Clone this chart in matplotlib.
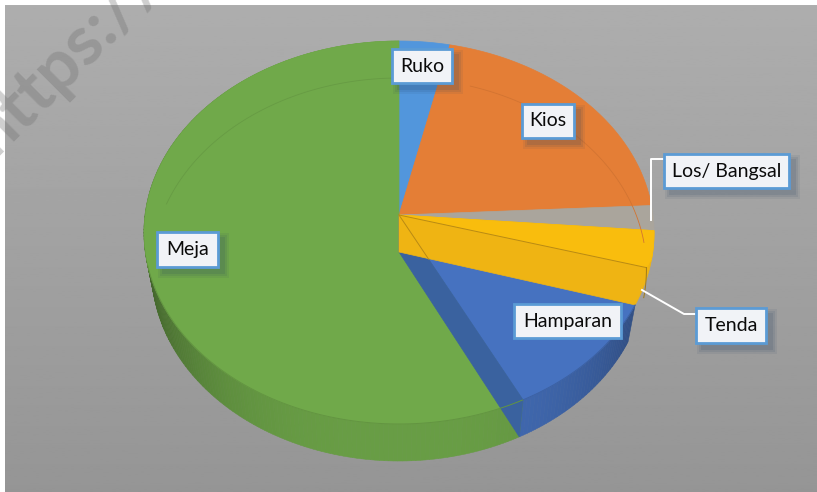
"""
Extruded pie chart of market stall types
"""

import numpy as np
import matplotlib
matplotlib.use("Agg")
import matplotlib.pyplot as plt
from matplotlib.patches import Polygon, Rectangle

# Chart values, clockwise from 12 o'clock (percent)
categories = ["Ruko", "Kios", "Los/ Bangsal", "Tenda", "Hamparan", "Meja"]
shares = [3.5, 20.7, 2.1, 6.2, 10.1, 57.4]

plt.rcParams['font.family'] = ['Lato', 'DejaVu Sans']

COLORS = {
    "Ruko": "#5296dc",
    "Kios": "#e47e36",
    "Los/ Bangsal": "#aaa59c",
    "Tenda": "#efb413",
    "Hamparan": "#4672c0",
    "Meja": "#70a94a",
}

# Disc geometry, in image pixels
CX, APEX_Y = 399, 215
TOP_Y, FRONT_Y = 41, 424
HALF_W = 254
DEPTH = 37
LOW_SCALE = 0.97  # the lower disc is further away, so a bit narrower

k = (TOP_Y + FRONT_Y - 2 * APEX_Y) / (FRONT_Y - TOP_Y)
a = TOP_Y * (1 + k) - APEX_Y


def project(theta, low=False):
    """Project a disc point (clockwise angle from the top) to image pixels"""
    u = np.sin(theta)
    v = np.cos(theta)
    w = 1 + k * v
    half_w = HALF_W * LOW_SCALE if low else HALF_W
    return np.column_stack([CX + half_w * u / w, (a * v + APEX_Y) / w + (DEPTH if low else 0)])


def arc(start, end, low=False, n=80):
    return project(np.linspace(start, end, n), low=low)


def shade(color, factor):
    rgb = np.array(matplotlib.colors.to_rgb(color))
    return tuple(rgb * factor)


edges = 2 * np.pi * np.cumsum([0] + shares) / sum(shares)
span = {name: (edges[i], edges[i + 1]) for i, name in enumerate(categories)}
apex_top = np.array([[CX, APEX_Y]])
apex_low = np.array([[CX, APEX_Y + DEPTH]])

fig = plt.figure(figsize=(8.17, 4.92), dpi=100, facecolor='white')
ax = fig.add_axes([0, 0, 1, 1])

# Background panel with a vertical grey gradient
gradient = np.linspace(0.68, 0.585, 256).reshape(-1, 1)
ax.imshow(gradient, cmap='gray', vmin=0, vmax=1, extent=(5, 817, 492, 5),
          aspect='auto', zorder=0)
ax.set_xlim(0, 817)
ax.set_ylim(492, 0)
ax.axis('off')

# Side wall, a strip at a time so the shade can run along the rim
for name in ["Hamparan", "Meja"]:
    start, end = span[name]
    steps = np.linspace(start, end, max(3, int((end - start) * 60)))
    for t0, t1 in zip(steps[:-1], steps[1:]):
        mid = (t0 + t1) / 2
        # darker towards the left and right ends of the visible wall
        factor = 0.93 - 0.34 * abs(np.sin(mid)) ** 3
        top = arc(t0, t1, n=3)
        low = arc(t1, t0, low=True, n=3)
        ax.add_patch(Polygon(np.vstack([top, low]), closed=True, lw=0.4,
                             fc=shade(COLORS[name], factor),
                             ec=shade(COLORS[name], factor), zorder=1))

# Top faces
for name in ["Ruko", "Kios", "Los/ Bangsal", "Meja", "Hamparan"]:
    pts = np.vstack([apex_top, arc(*span[name])])
    ax.add_patch(Polygon(pts, closed=True, fc=COLORS[name], ec=COLORS[name],
                         lw=0.5, zorder=2))

# Radial wall between Meja and Hamparan
t_mh = span["Hamparan"][1]
rim_top = project(np.array([t_mh]))
rim_low = project(np.array([t_mh]), low=True)
ax.add_patch(Polygon(np.vstack([apex_top, rim_top, rim_low, apex_low]), closed=True,
                     fc="#3a629f", ec="#3a629f", lw=0.5, zorder=3))

# Tenda sits over the Hamparan face down to the lower apex
t_lt, t_th = span["Tenda"]
pts = np.vstack([apex_top, arc(t_lt, t_th), apex_low])
ax.add_patch(Polygon(pts, closed=True, fc=COLORS["Tenda"], ec=COLORS["Tenda"],
                     lw=0.5, zorder=4))
rim_lt_low = project(np.array([t_lt]), low=True)
ax.add_patch(Polygon(np.vstack([apex_top, arc(t_lt, t_lt + 0.15), rim_lt_low]), closed=True,
                     fc="#f9bd0d", ec="#f9bd0d", lw=0.5, zorder=4))
ax.plot(*np.vstack([apex_top, rim_lt_low]).T, color="#b98a14", lw=0.7, zorder=5)
ax.plot(*np.vstack([apex_top, apex_top + (rim_top - apex_top) * 0.24]).T,
        color="#b98a14", lw=0.7, zorder=5)
ax.plot(*arc(t_lt, t_lt + 0.4 * (t_th - t_lt), low=True).T, color="#a07a18", lw=0.7, zorder=5)

# Back of the lower disc, faintly seen through the top faces
ring_parts = [("Kios", span["Kios"][0] + 0.1, span["Kios"][1]),
              ("Meja", np.radians(285), 2 * np.pi)]
for name, start, end in ring_parts:
    ax.plot(*arc(start, end, low=True).T, color=shade(COLORS[name], 0.92), lw=0.6, zorder=5)
ax.plot(*arc(t_mh, np.radians(255)).T, color=shade(COLORS["Meja"], 0.88), lw=0.7, zorder=5)
ax.plot(*arc(span["Hamparan"][0], t_mh).T, color=shade(COLORS["Hamparan"], 0.85), lw=0.7, zorder=5)

# Leader lines
ax.plot([651, 651, 664], [220, 159, 159], color='white', lw=1.4, zorder=6)
ax.plot([642, 684, 696], [290, 314, 314], color='white', lw=1.4, zorder=6)

# Data labels: x0, y0, x1, y1 of each box
boxes = {
    "Ruko": (392, 49, 452, 83),
    "Kios": (522, 104, 574, 138),
    "Los/ Bangsal": (664, 154, 789, 188),
    "Tenda": (696, 308, 766, 343),
    "Hamparan": (514, 304, 621, 338),
    "Meja": (157, 232, 218, 267),
}
for name, (x0, y0, x1, y1) in boxes.items():
    if name != "Hamparan":
        for grow, alpha in zip([5, 3, 1], [0.08, 0.10, 0.12]):
            ax.add_patch(Rectangle((x0 + 6 - grow, y0 + 6 - grow), x1 - x0 + 2 * grow, y1 - y0 + 2 * grow,
                                   fc='#26405f', ec='none', alpha=alpha, zorder=7))
    ax.add_patch(Rectangle((x0, y0), x1 - x0, y1 - y0, fc='#f1f3f7', ec='#5b9bd5', lw=2, zorder=8))
    ax.text((x0 + x1) / 2, (y0 + y1) / 2, name, ha='center', va='center',
            fontsize=14, color='#0a0a0a', zorder=9)

# Watermark across the top left corner
ax.text(-6, 158, "https://", rotation=45, rotation_mode='anchor', ha='left', va='baseline',
        fontsize=50, fontweight='bold', color='#6e6e6e', alpha=0.33, zorder=10)

fig.savefig("out.png", dpi=100, facecolor='white')
plt.close(fig)
